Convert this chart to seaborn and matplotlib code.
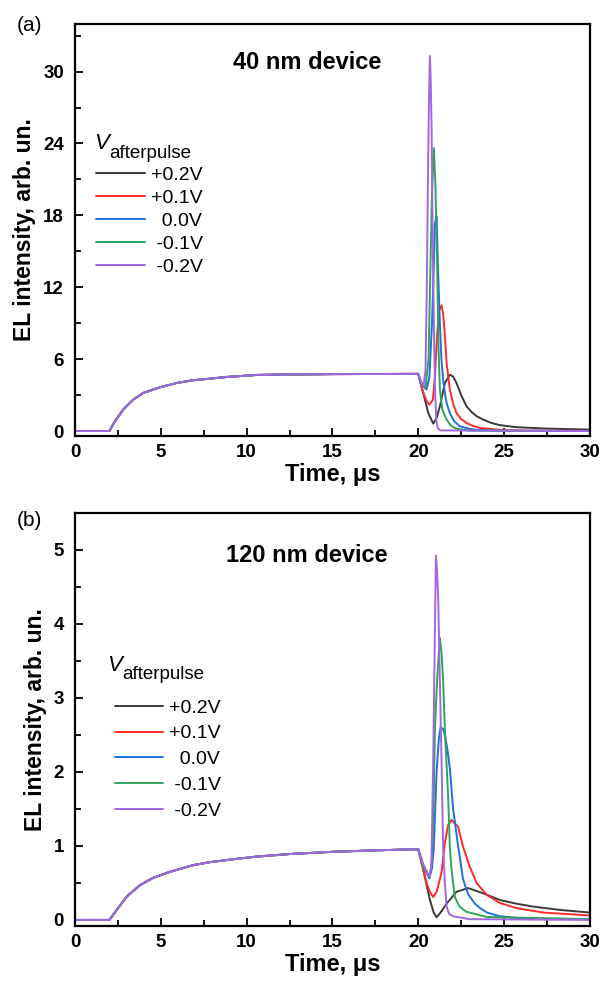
import numpy as np
import pandas as pd
import matplotlib
matplotlib.use("Agg")
import matplotlib.pyplot as plt
from matplotlib.ticker import MultipleLocator
import seaborn as sns

# ---- data -------------------------------------------------------------
bias_labels = ["+0.2V", "+0.1V", "  0.0V", " -0.1V", " -0.2V"]
bias_colors = ["#3a3a3a", "#ff2a2a", "#1f6fe0", "#2ea35a", "#a366e0"]

# common rise during the main pulse (identical for every afterpulse bias)
rise_a_t = [0.0, 2.0, 2.33, 2.81, 3.4, 3.98, 4.95, 5.92, 6.89, 7.86, 8.83, 10.58, 12.5, 15.0, 17.5]
rise_a_y = [0.0, 0.0, 0.82, 1.79, 2.63, 3.18, 3.65, 4.01, 4.24, 4.37, 4.51, 4.68, 4.72, 4.75, 4.76]

rise_b_t = [0.0, 2.0, 2.43, 3.01, 3.79, 4.56, 5.53, 6.89, 7.86, 9.22, 10.58, 12.5, 15.0, 17.5]
rise_b_y = [0.0, 0.0, 0.135, 0.315, 0.47, 0.57, 0.65, 0.74, 0.78, 0.82, 0.855, 0.89, 0.92, 0.94]

# 40 nm device, response after the pulse
p02_a_t = [20.0, 20.29, 20.58, 20.87, 21.07, 21.26, 21.55, 21.84, 22.03, 22.23, 22.5, 22.81, 23.1, 23.4, 23.78, 24.2, 24.75, 25.72, 27.5, 30.0]
p02_a_y = [4.77, 3.18, 1.51, 0.62, 1.1, 2.07, 4.0, 4.7, 4.55, 4.0, 3.0, 2.07, 1.6, 1.24, 0.96, 0.7, 0.49, 0.32, 0.2, 0.12]

p01_a_t = [20.0, 20.2, 20.45, 20.64, 20.85, 20.97, 21.1, 21.2, 21.36, 21.45, 21.55, 21.65, 21.84, 22.03, 22.23, 22.5, 22.81, 23.2, 23.59, 24.75, 26.0, 30.0]
p01_a_y = [4.77, 3.6, 2.6, 2.2, 2.6, 4.5, 8.0, 10.0, 10.5, 9.8, 8.0, 5.7, 3.46, 2.3, 1.5, 1.0, 0.68, 0.42, 0.26, 0.1, 0.04, 0.01]

z00_a_t = [20.0, 20.2, 20.48, 20.65, 20.8, 20.9, 20.97, 21.07, 21.16, 21.26, 21.35, 21.45, 21.55, 21.65, 21.84, 22.1, 22.42, 22.9, 23.4, 25.0, 30.0]
z00_a_y = [4.77, 3.9, 3.46, 4.5, 9.0, 13.5, 17.3, 17.9, 13.2, 9.0, 6.0, 4.3, 3.2, 2.35, 1.5, 0.8, 0.4, 0.2, 0.1, 0.02, 0.0]

m01_a_t = [20.0, 20.2, 20.42, 20.6, 20.7, 20.8, 20.91, 21.0, 21.1, 21.18, 21.26, 21.4, 21.65, 21.9, 22.2, 23.0, 30.0]
m01_a_y = [4.77, 3.9, 3.6, 6.0, 13.0, 20.0, 23.6, 20.5, 14.0, 7.0, 3.46, 1.8, 0.96, 0.45, 0.2, 0.03, 0.0]

m02_a_t = [20.0, 20.15, 20.3, 20.42, 20.5, 20.57, 20.63, 20.68, 20.73, 20.78, 20.85, 20.92, 20.98, 21.05, 21.15, 21.3, 30.0]
m02_a_y = [4.77, 4.2, 3.7, 5.0, 12.0, 22.0, 28.0, 31.3, 29.0, 25.0, 15.0, 8.0, 3.5, 0.8, 0.2, 0.05, 0.0]

# 120 nm device, response after the pulse
p02_b_t = [20.0, 20.29, 20.68, 20.9, 21.07, 21.3, 21.65, 22.23, 22.9, 23.78, 24.75, 25.7, 26.7, 28.25, 30.0]
p02_b_y = [0.955, 0.68, 0.27, 0.1, 0.036, 0.1, 0.22, 0.38, 0.43, 0.36, 0.27, 0.22, 0.18, 0.135, 0.1]

p01_b_t = [20.0, 20.29, 20.48, 20.68, 20.87, 21.07, 21.26, 21.36, 21.55, 21.74, 21.94, 22.32, 22.61, 23.0, 23.4, 23.98, 24.75, 25.72, 27.27, 30.0]
p01_b_y = [0.955, 0.68, 0.5, 0.38, 0.31, 0.38, 0.55, 0.65, 1.04, 1.28, 1.35, 1.26, 0.99, 0.72, 0.5, 0.34, 0.23, 0.16, 0.1, 0.06]

z00_b_t = [20.0, 20.3, 20.64, 20.8, 20.9, 21.07, 21.2, 21.3, 21.45, 21.55, 21.7, 21.84, 22.03, 22.32, 22.61, 22.9, 23.3, 23.6, 24.0, 24.75, 26.0, 30.0]
z00_b_y = [0.955, 0.72, 0.56, 0.7, 0.95, 2.0, 2.45, 2.6, 2.58, 2.5, 2.3, 2.05, 1.5, 1.0, 0.55, 0.35, 0.22, 0.16, 0.1, 0.05, 0.02, 0.01]

m01_b_t = [20.0, 20.3, 20.66, 20.77, 20.87, 20.97, 21.07, 21.16, 21.26, 21.36, 21.45, 21.55, 21.65, 21.74, 21.84, 21.95, 22.13, 22.4, 22.8, 24.0, 30.0]
m01_b_y = [0.955, 0.72, 0.57, 0.75, 1.22, 2.57, 3.1, 3.47, 3.81, 3.6, 3.24, 2.57, 2.1, 1.67, 0.99, 0.65, 0.31, 0.18, 0.11, 0.04, 0.01]

m02_b_t = [20.0, 20.3, 20.6, 20.68, 20.77, 20.87, 20.97, 21.03, 21.1, 21.16, 21.26, 21.36, 21.45, 21.55, 21.65, 21.8, 22.03, 23.0, 30.0]
m02_b_y = [0.955, 0.75, 0.6, 0.585, 0.77, 2.12, 3.92, 4.92, 4.7, 4.37, 3.24, 2.12, 0.99, 0.5, 0.18, 0.08, 0.05, 0.01, 0.0]

x_ticks = [0, 5, 10, 15, 20, 25, 30]
y_ticks_a = [0, 6, 12, 18, 24, 30]
y_ticks_b = [0, 1, 2, 3, 4, 5]


def long_table(rise_t, rise_y, tails):
    rows = []
    for label, (tt, yy) in zip(bias_labels, tails):
        t = list(rise_t) + list(tt)
        y = list(rise_y) + list(yy)
        rows.append(pd.DataFrame({"t": t, "y": y, "bias": label}))
    return pd.concat(rows, ignore_index=True)


df_a = long_table(rise_a_t, rise_a_y, [(p02_a_t, p02_a_y), (p01_a_t, p01_a_y), (z00_a_t, z00_a_y),
                                       (m01_a_t, m01_a_y), (m02_a_t, m02_a_y)])
df_b = long_table(rise_b_t, rise_b_y, [(p02_b_t, p02_b_y), (p01_b_t, p01_b_y), (z00_b_t, z00_b_y),
                                       (m01_b_t, m01_b_y), (m02_b_t, m02_b_y)])

# ---- style ------------------------------------------------------------
sns.set_theme(style="ticks")
plt.rcParams["font.family"] = ["Liberation Sans", "DejaVu Sans"]
plt.rcParams["axes.linewidth"] = 1.5
for key in ("text.color", "axes.labelcolor", "xtick.color", "ytick.color", "axes.edgecolor"):
    plt.rcParams[key] = "black"

fig = plt.figure(figsize=(6.10, 9.86), dpi=100)
ax_a = fig.add_axes([0.123, 0.558, 0.844, 0.418])
ax_b = fig.add_axes([0.123, 0.061, 0.844, 0.419])


def style_axes(ax, yticks, yminor, ylim):
    ax.set_xlim(0, 30)
    ax.set_ylim(*ylim)
    ax.set_xticks(x_ticks)
    ax.set_yticks(yticks)
    ax.xaxis.set_minor_locator(MultipleLocator(2.5))
    ax.yaxis.set_minor_locator(MultipleLocator(yminor))
    ax.tick_params(which="both", direction="in", top=False, right=False, width=1.3,
                   color="black", labelcolor="black")
    ax.tick_params(which="major", length=6)
    ax.tick_params(which="minor", length=4)
    ax.tick_params(axis="x", pad=6)
    ax.tick_params(axis="y", pad=8)
    for lab in ax.get_xticklabels() + ax.get_yticklabels():
        lab.set_fontsize(13.5)
        lab.set_fontweight("bold")
    for s in ax.spines.values():
        s.set_visible(True)
        s.set_linewidth(1.6)
        s.set_color("black")
    ax.set_xlabel("Time, \u03bcs", fontsize=17, fontweight="bold", labelpad=1, color="black")
    ax.set_ylabel("EL intensity, arb. un.", fontsize=16.5, fontweight="bold", labelpad=5,
                  color="black")


def draw_panel(ax, df, title, title_xy, vpos, legend_anchor, spacing):
    sns.lineplot(data=df, x="t", y="y", hue="bias", hue_order=bias_labels,
                 palette=bias_colors, estimator=None, sort=False, linewidth=1.4,
                 ax=ax, legend=True)
    handles, labels = ax.get_legend_handles_labels()
    leg = ax.legend(handles, labels, loc="upper left", bbox_to_anchor=legend_anchor,
                    frameon=False, fontsize=14, handlelength=2.5, handletextpad=0.3,
                    labelspacing=spacing, borderpad=0, borderaxespad=0)
    for txt in leg.get_texts():
        txt.set_color("black")
    ax.text(*title_xy, title, transform=ax.transAxes, ha="center", va="center",
            fontsize=17, fontweight="bold", color="black")
    v = ax.text(*vpos, "V", transform=ax.transAxes, ha="left", va="baseline",
                fontsize=16, style="italic", color="black")
    ax.annotate("afterpulse", xy=(1.0, 0.0), xycoords=v, xytext=(0.5, -2.5),
                textcoords="offset points", ha="left", va="baseline", fontsize=13.5,
                color="black")


draw_panel(ax_a, df_a, "40 nm device", (0.450, 0.906), (0.037, 0.695), (0.041, 0.653), 0.27)
style_axes(ax_a, y_ticks_a, 3, (-0.4, 34))

draw_panel(ax_b, df_b, "120 nm device", (0.450, 0.896), (0.062, 0.618), (0.077, 0.549), 0.42)
style_axes(ax_b, y_ticks_b, 0.5, (-0.08, 5.5))

fig.text(0.028, 0.974, "(a)", fontsize=15, ha="left", va="center", color="black")
fig.text(0.028, 0.472, "(b)", fontsize=15, ha="left", va="center", color="black")

fig.savefig("out.png", dpi=100)
